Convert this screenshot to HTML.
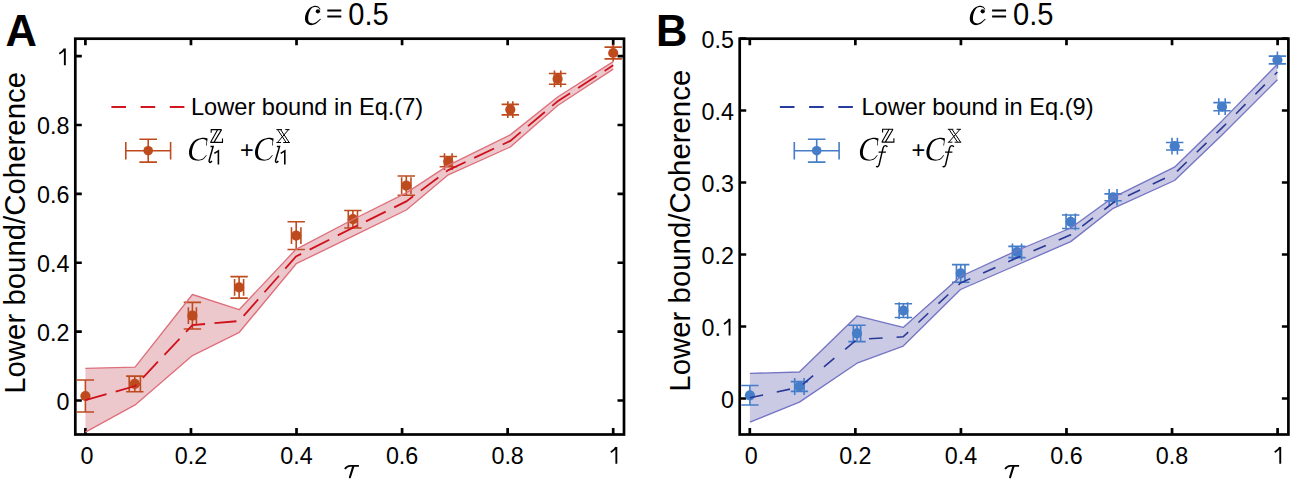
<!DOCTYPE html>
<html><head><meta charset="utf-8"><style>html,body{margin:0;padding:0;background:#fff;}svg{display:block;} .s{font-family:"Liberation Sans",sans-serif;} .r{font-family:"Liberation Serif",serif;}</style></head>
<body><svg width="1293" height="481" viewBox="0 0 1293 481">
<rect width="1293" height="481" fill="#fff"/>
<rect x="75.30" y="38.7" width="548.70" height="395.8" fill="none" stroke="#000" stroke-width="2.7"/>
<path d="M85.40 434.5v-6.5M85.40 38.7v6.5M190.96 434.5v-6.5M190.96 38.7v6.5M296.52 434.5v-6.5M296.52 38.7v6.5M402.08 434.5v-6.5M402.08 38.7v6.5M507.64 434.5v-6.5M507.64 38.7v6.5M613.20 434.5v-6.5M613.20 38.7v6.5M75.3 400.50h6.5M624 400.50h-6.5M75.3 331.62h6.5M624 331.62h-6.5M75.3 262.74h6.5M624 262.74h-6.5M75.3 193.86h6.5M624 193.86h-6.5M75.3 124.98h6.5M624 124.98h-6.5M75.3 56.10h6.5M624 56.10h-6.5" stroke="#000" stroke-width="2.7" fill="none"/>
<rect x="739.70" y="38.7" width="548.70" height="395.8" fill="none" stroke="#000" stroke-width="2.7"/>
<path d="M749.80 434.5v-6.5M749.80 38.7v6.5M855.36 434.5v-6.5M855.36 38.7v6.5M960.92 434.5v-6.5M960.92 38.7v6.5M1066.48 434.5v-6.5M1066.48 38.7v6.5M1172.04 434.5v-6.5M1172.04 38.7v6.5M1277.60 434.5v-6.5M1277.60 38.7v6.5M739.6999999999999 398.50h6.5M1288.4 398.50h-6.5M739.6999999999999 326.50h6.5M1288.4 326.50h-6.5M739.6999999999999 254.50h6.5M1288.4 254.50h-6.5M739.6999999999999 182.50h6.5M1288.4 182.50h-6.5M739.6999999999999 110.50h6.5M1288.4 110.50h-6.5M739.6999999999999 38.50h6.5M1288.4 38.50h-6.5" stroke="#000" stroke-width="2.7" fill="none"/>
<polygon points="85.4,368.3 135.1,367.1 192.4,294.5 239.1,309.7 296.0,249.3 352.9,219.5 406.3,192.9 448.3,165.4 510.3,134.9 557.7,97.0 613.2,61.6 613.2,69.1 557.7,105.5 510.3,147.0 448.3,174.8 406.3,210.0 352.9,236.2 296.2,263.7 239.3,332.3 192.4,355.6 135.1,404.9 85.4,432.2" fill="#B42337" fill-opacity="0.25" stroke="none"/>
<polygon points="749.9,373.4 799.4,372.0 857.0,315.9 903.2,327.4 960.5,276.5 1017.0,250.5 1070.7,228.0 1113.2,197.3 1174.5,167.2 1222.0,120.9 1277.4,64.2 1277.4,79.7 1222.0,134.9 1174.5,180.5 1113.2,208.3 1070.7,241.6 1017.0,265.0 960.5,289.5 903.2,346.1 857.0,363.2 799.4,402.1 749.9,422.1" fill="#3C3CA0" fill-opacity="0.27" stroke="none"/>
<path d="M85.40 380.00V412.00M76.70 380.00H94.10M76.70 412.00H94.10M85.40 396.00H85.40M85.40 387.60V404.40M85.40 387.60V404.40" stroke="#BE4B1E" stroke-width="1.6" fill="none"/>
<circle cx="85.40" cy="396.00" r="5.1" fill="#BE4B1E"/>
<path d="M134.80 376.10V391.70M126.10 376.10H143.50M126.10 391.70H143.50M129.20 383.90H140.40M129.20 375.50V392.30M140.40 375.50V392.30" stroke="#BE4B1E" stroke-width="1.6" fill="none"/>
<circle cx="134.80" cy="383.90" r="5.1" fill="#BE4B1E"/>
<path d="M192.40 302.40V329.00M183.70 302.40H201.10M183.70 329.00H201.10M188.40 315.70H196.40M188.40 307.30V324.10M196.40 307.30V324.10" stroke="#BE4B1E" stroke-width="1.6" fill="none"/>
<circle cx="192.40" cy="315.70" r="5.1" fill="#BE4B1E"/>
<path d="M239.10 276.65V298.15M230.40 276.65H247.80M230.40 298.15H247.80M234.60 287.40H243.60M234.60 279.00V295.80M243.60 279.00V295.80" stroke="#BE4B1E" stroke-width="1.6" fill="none"/>
<circle cx="239.10" cy="287.40" r="5.1" fill="#BE4B1E"/>
<path d="M296.20 221.75V249.45M287.50 221.75H304.90M287.50 249.45H304.90M291.50 235.60H300.90M291.50 227.20V244.00M300.90 227.20V244.00" stroke="#BE4B1E" stroke-width="1.6" fill="none"/>
<circle cx="296.20" cy="235.60" r="5.1" fill="#BE4B1E"/>
<path d="M352.90 210.45V227.95M344.20 210.45H361.60M344.20 227.95H361.60M348.30 219.20H357.50M348.30 210.80V227.60M357.50 210.80V227.60" stroke="#BE4B1E" stroke-width="1.6" fill="none"/>
<circle cx="352.90" cy="219.20" r="5.1" fill="#BE4B1E"/>
<path d="M406.30 176.00V195.20M397.60 176.00H415.00M397.60 195.20H415.00M401.65 185.60H410.95M401.65 177.20V194.00M410.95 177.20V194.00" stroke="#BE4B1E" stroke-width="1.6" fill="none"/>
<circle cx="406.30" cy="185.60" r="5.1" fill="#BE4B1E"/>
<path d="M448.30 156.50V166.70M439.60 156.50H457.00M439.60 166.70H457.00M444.50 161.60H452.10M444.50 153.20V170.00M452.10 153.20V170.00" stroke="#BE4B1E" stroke-width="1.6" fill="none"/>
<circle cx="448.30" cy="161.60" r="5.1" fill="#BE4B1E"/>
<path d="M510.30 104.35V114.85M501.60 104.35H519.00M501.60 114.85H519.00M507.80 109.60H512.80M507.80 101.20V118.00M512.80 101.20V118.00" stroke="#BE4B1E" stroke-width="1.6" fill="none"/>
<circle cx="510.30" cy="109.60" r="5.1" fill="#BE4B1E"/>
<path d="M557.60 73.50V84.30M548.90 73.50H566.30M548.90 84.30H566.30M554.45 78.90H560.75M554.45 70.50V87.30M560.75 70.50V87.30" stroke="#BE4B1E" stroke-width="1.6" fill="none"/>
<circle cx="557.60" cy="78.90" r="5.1" fill="#BE4B1E"/>
<path d="M613.20 47.10V58.90M604.50 47.10H621.90M604.50 58.90H621.90M613.20 53.00H613.20M613.20 44.60V61.40M613.20 44.60V61.40" stroke="#BE4B1E" stroke-width="1.6" fill="none"/>
<circle cx="613.20" cy="53.00" r="5.1" fill="#BE4B1E"/>
<path d="M749.90 385.55V405.05M741.20 385.55H758.60M741.20 405.05H758.60M749.90 395.30H749.90M749.90 386.90V403.70M749.90 386.90V403.70" stroke="#467DC8" stroke-width="1.6" fill="none"/>
<circle cx="749.90" cy="395.30" r="5.1" fill="#467DC8"/>
<path d="M799.40 381.60V391.40M790.70 381.60H808.10M790.70 391.40H808.10M794.70 386.50H804.10M794.70 378.10V394.90M804.10 378.10V394.90" stroke="#467DC8" stroke-width="1.6" fill="none"/>
<circle cx="799.40" cy="386.50" r="5.1" fill="#467DC8"/>
<path d="M857.00 325.20V341.60M848.30 325.20H865.70M848.30 341.60H865.70M853.35 333.40H860.65M853.35 325.00V341.80M860.65 325.00V341.80" stroke="#467DC8" stroke-width="1.6" fill="none"/>
<circle cx="857.00" cy="333.40" r="5.1" fill="#467DC8"/>
<path d="M903.40 303.70V317.50M894.70 303.70H912.10M894.70 317.50H912.10M899.20 310.60H907.60M899.20 302.20V319.00M907.60 302.20V319.00" stroke="#467DC8" stroke-width="1.6" fill="none"/>
<circle cx="903.40" cy="310.60" r="5.1" fill="#467DC8"/>
<path d="M960.70 264.60V282.20M952.00 264.60H969.40M952.00 282.20H969.40M956.45 273.40H964.95M956.45 265.00V281.80M964.95 265.00V281.80" stroke="#467DC8" stroke-width="1.6" fill="none"/>
<circle cx="960.70" cy="273.40" r="5.1" fill="#467DC8"/>
<path d="M1017.00 246.40V257.60M1008.30 246.40H1025.70M1008.30 257.60H1025.70M1012.45 252.00H1021.55M1012.45 243.60V260.40M1021.55 243.60V260.40" stroke="#467DC8" stroke-width="1.6" fill="none"/>
<circle cx="1017.00" cy="252.00" r="5.1" fill="#467DC8"/>
<path d="M1070.70 215.05V228.55M1062.00 215.05H1079.40M1062.00 228.55H1079.40M1066.05 221.80H1075.35M1066.05 213.40V230.20M1075.35 213.40V230.20" stroke="#467DC8" stroke-width="1.6" fill="none"/>
<circle cx="1070.70" cy="221.80" r="5.1" fill="#467DC8"/>
<path d="M1113.10 193.90V200.70M1104.40 193.90H1121.80M1104.40 200.70H1121.80M1109.20 197.30H1117.00M1109.20 188.90V205.70M1117.00 188.90V205.70" stroke="#467DC8" stroke-width="1.6" fill="none"/>
<circle cx="1113.10" cy="197.30" r="5.1" fill="#467DC8"/>
<path d="M1174.70 142.45V149.95M1166.00 142.45H1183.40M1166.00 149.95H1183.40M1172.00 146.20H1177.40M1172.00 137.80V154.60M1177.40 137.80V154.60" stroke="#467DC8" stroke-width="1.6" fill="none"/>
<circle cx="1174.70" cy="146.20" r="5.1" fill="#467DC8"/>
<path d="M1222.00 102.65V110.75M1213.30 102.65H1230.70M1213.30 110.75H1230.70M1218.80 106.70H1225.20M1218.80 98.30V115.10M1225.20 98.30V115.10" stroke="#467DC8" stroke-width="1.6" fill="none"/>
<circle cx="1222.00" cy="106.70" r="5.1" fill="#467DC8"/>
<path d="M1277.40 56.15V63.85M1268.70 56.15H1286.10M1268.70 63.85H1286.10M1277.40 60.00H1277.40M1277.40 51.60V68.40M1277.40 51.60V68.40" stroke="#467DC8" stroke-width="1.6" fill="none"/>
<circle cx="1277.40" cy="60.00" r="5.1" fill="#467DC8"/>
<polyline points="85.4,368.3 135.1,367.1 192.4,294.5 239.1,309.7 296.0,249.3 352.9,219.5 406.3,192.9 448.3,165.4 510.3,134.9 557.7,97.0 613.2,61.6" fill="none" stroke="#DE707C" stroke-width="1.35" stroke-linejoin="round"/>
<polyline points="85.4,432.2 135.1,404.9 192.4,355.6 239.3,332.3 296.2,263.7 352.9,236.2 406.3,210.0 448.3,174.8 510.3,147.0 557.7,105.5 613.2,69.1" fill="none" stroke="#DE707C" stroke-width="1.35" stroke-linejoin="round"/>
<polyline points="85.4,400.2 135.1,386.0 192.4,325.1 239.1,321.0 296.0,256.5 352.9,227.8 406.3,201.4 448.3,170.1 510.3,140.9 557.7,101.2 613.2,65.3" fill="none" stroke="#D0101A" stroke-width="1.8" stroke-dasharray="22 9.5"/>
<polyline points="749.9,373.4 799.4,372.0 857.0,315.9 903.2,327.4 960.5,276.5 1017.0,250.5 1070.7,228.0 1113.2,197.3 1174.5,167.2 1222.0,120.9 1277.4,64.2" fill="none" stroke="#7474C4" stroke-width="1.35" stroke-linejoin="round"/>
<polyline points="749.9,422.1 799.4,402.1 857.0,363.2 903.2,346.1 960.5,289.5 1017.0,265.0 1070.7,241.6 1113.2,208.3 1174.5,180.5 1222.0,134.9 1277.4,79.7" fill="none" stroke="#7474C4" stroke-width="1.35" stroke-linejoin="round"/>
<polyline points="749.9,397.8 799.4,387.1 857.0,339.5 903.2,336.8 960.5,283.0 1017.0,257.8 1070.7,234.8 1113.2,202.8 1174.5,173.8 1222.0,127.9 1277.4,72.0" fill="none" stroke="#283896" stroke-width="1.6" stroke-dasharray="13.5 14"/>
<text x="86.90" y="464.2" text-anchor="middle" class="s" font-size="23.3">0</text>
<text x="190.96" y="464.2" text-anchor="middle" class="s" font-size="23.3">0.2</text>
<text x="296.52" y="464.2" text-anchor="middle" class="s" font-size="23.3">0.4</text>
<text x="402.08" y="464.2" text-anchor="middle" class="s" font-size="23.3">0.6</text>
<text x="507.64" y="464.2" text-anchor="middle" class="s" font-size="23.3">0.8</text>
<path d="M616.35 446.90V463.70M610.80 452.20C613.20 450.80 615.20 449.20 616.20 447.20" stroke="#000" stroke-width="1.9" fill="none"/>
<text x="69.50" y="409.60" text-anchor="end" class="s" font-size="23.3">0</text>
<text x="69.50" y="340.72" text-anchor="end" class="s" font-size="23.3">0.2</text>
<text x="69.50" y="271.84" text-anchor="end" class="s" font-size="23.3">0.4</text>
<text x="69.50" y="202.96" text-anchor="end" class="s" font-size="23.3">0.6</text>
<text x="69.50" y="134.08" text-anchor="end" class="s" font-size="23.3">0.8</text>
<path d="M64.85 48.40V65.20M59.30 53.70C61.70 52.30 63.70 50.70 64.70 48.70" stroke="#000" stroke-width="1.9" fill="none"/>
<text x="751.30" y="464.2" text-anchor="middle" class="s" font-size="23.3">0</text>
<text x="855.36" y="464.2" text-anchor="middle" class="s" font-size="23.3">0.2</text>
<text x="960.92" y="464.2" text-anchor="middle" class="s" font-size="23.3">0.4</text>
<text x="1066.48" y="464.2" text-anchor="middle" class="s" font-size="23.3">0.6</text>
<text x="1172.04" y="464.2" text-anchor="middle" class="s" font-size="23.3">0.8</text>
<path d="M1280.25 446.90V463.70M1274.70 452.20C1277.10 450.80 1279.10 449.20 1280.10 447.20" stroke="#000" stroke-width="1.9" fill="none"/>
<text x="733.90" y="407.60" text-anchor="end" class="s" font-size="23.3">0</text>
<text x="701.60" y="335.60" class="s" font-size="23.3">0.</text>
<path d="M729.55 318.80V335.60M724.00 324.10C726.40 322.70 728.40 321.10 729.40 319.10" stroke="#000" stroke-width="1.9" fill="none"/>
<text x="733.90" y="263.60" text-anchor="end" class="s" font-size="23.3">0.2</text>
<text x="733.90" y="191.60" text-anchor="end" class="s" font-size="23.3">0.3</text>
<text x="733.90" y="119.60" text-anchor="end" class="s" font-size="23.3">0.4</text>
<text x="733.90" y="47.60" text-anchor="end" class="s" font-size="23.3">0.5</text>
<text x="5.6" y="46.1" class="s" font-weight="bold" font-size="43.5">A</text>
<text x="656" y="46.1" class="s" font-weight="bold" font-size="43.5">B</text>
<text transform="translate(24.6 232.9) rotate(-90)" text-anchor="middle" class="s" font-size="29.4">Lower bound/Coherence</text>
<text transform="translate(690.3 230.7) rotate(-90)" text-anchor="middle" class="s" font-size="29.4">Lower bound/Coherence</text>
<path d="M320.60 9.40C320.20 8.92 319.33 7.07 318.20 6.50C317.07 5.93 315.40 5.58 313.80 6.00C312.20 6.42 310.02 7.42 308.60 9.00C307.18 10.58 305.80 13.37 305.30 15.50C304.80 17.63 304.85 20.22 305.60 21.80C306.35 23.38 308.15 24.63 309.80 25.00C311.45 25.37 313.65 24.95 315.50 24.00C317.35 23.05 320.00 20.08 320.90 19.30L320.30 18.70C319.42 19.38 316.57 22.07 315.00 22.80C313.43 23.53 312.00 23.50 310.90 23.10C309.80 22.70 308.78 21.83 308.40 20.40C308.02 18.97 308.15 16.42 308.60 14.50C309.05 12.58 310.12 10.13 311.10 8.90C312.08 7.67 313.35 7.33 314.50 7.10C315.65 6.87 317.15 7.12 318.00 7.50C318.85 7.88 319.33 9.08 319.60 9.40Z" fill="#000"/><circle cx="317.9" cy="11.3" r="2.15" fill="#000"/><path d="M327.3 10.45H341.3M327.3 16.45H341.3" stroke="#000" stroke-width="2.1"/><text transform="translate(348.2 24.6) scale(0.97 1.07)" x="0" y="0" class="s" font-size="30">0.5</text>
<path d="M985.40 9.40C985.00 8.92 984.13 7.07 983.00 6.50C981.87 5.93 980.20 5.58 978.60 6.00C977.00 6.42 974.82 7.42 973.40 9.00C971.98 10.58 970.60 13.37 970.10 15.50C969.60 17.63 969.65 20.22 970.40 21.80C971.15 23.38 972.95 24.63 974.60 25.00C976.25 25.37 978.45 24.95 980.30 24.00C982.15 23.05 984.80 20.08 985.70 19.30L985.10 18.70C984.22 19.38 981.37 22.07 979.80 22.80C978.23 23.53 976.80 23.50 975.70 23.10C974.60 22.70 973.58 21.83 973.20 20.40C972.82 18.97 972.95 16.42 973.40 14.50C973.85 12.58 974.92 10.13 975.90 8.90C976.88 7.67 978.15 7.33 979.30 7.10C980.45 6.87 981.95 7.12 982.80 7.50C983.65 7.88 984.13 9.08 984.40 9.40Z" fill="#000"/><circle cx="982.6999999999999" cy="11.3" r="2.15" fill="#000"/><path d="M992.0999999999999 10.45H1006.0999999999999M992.0999999999999 16.45H1006.0999999999999" stroke="#000" stroke-width="2.1"/><text transform="translate(1013.0 24.6) scale(0.97 1.07)" x="0" y="0" class="s" font-size="30">0.5</text>
<path d="M344.9 469.0C346.3 466.9 347.6 465.9 350 465.9H358.9" stroke="#000" stroke-width="1.8" fill="none"/><path d="M353.3 466.4L349.9 477.3" stroke="#000" stroke-width="2.1" fill="none" stroke-linecap="round"/>
<path d="M1005.1 469.0C1006.5 466.9 1007.8000000000001 465.9 1010.2 465.9H1019.1" stroke="#000" stroke-width="1.8" fill="none"/><path d="M1013.5 466.4L1010.1 477.3" stroke="#000" stroke-width="2.1" fill="none" stroke-linecap="round"/>
<path d="M111.4 107H184.8" stroke="#D0161E" stroke-width="1.9" stroke-dasharray="14.6 14.6"/>
<text x="191" y="115.3" class="s" font-size="23.6">Lower bound in Eq.(7)</text>
<path d="M125.79999999999998 150.7H170.6M125.79999999999998 141.89999999999998v17.6M170.6 141.89999999999998v17.6M148.2 139.29999999999998V162.1M139.39999999999998 139.29999999999998h17.6M139.39999999999998 162.1h17.6" stroke="#BE4B1E" stroke-width="1.6" fill="none"/>
<circle cx="148.2" cy="150.7" r="4.8" fill="#BE4B1E"/>
<path d="M207.60 138.40C206.53 138.33 203.52 137.52 201.20 138.00C198.88 138.48 195.68 139.37 193.70 141.30C191.72 143.23 189.88 146.92 189.30 149.60C188.72 152.28 189.02 155.57 190.20 157.40C191.38 159.23 194.27 160.23 196.40 160.60C198.53 160.97 201.27 160.48 203.00 159.60C204.73 158.72 206.17 156.02 206.80 155.30L206.20 155.00C205.58 155.62 204.00 157.95 202.50 158.70C201.00 159.45 198.82 159.87 197.20 159.50C195.58 159.13 193.63 158.10 192.80 156.50C191.97 154.90 191.77 152.27 192.20 149.90C192.63 147.53 193.90 144.08 195.40 142.30C196.90 140.52 199.40 139.50 201.20 139.20C203.00 138.90 205.40 139.48 206.20 140.50C207.00 141.52 205.92 144.50 206.00 145.30C206.08 146.10 206.58 145.30 206.70 145.30Z" fill="#000"/>
<path d="M273.60 138.40C272.53 138.33 269.52 137.52 267.20 138.00C264.88 138.48 261.68 139.37 259.70 141.30C257.72 143.23 255.88 146.92 255.30 149.60C254.72 152.28 255.02 155.57 256.20 157.40C257.38 159.23 260.27 160.23 262.40 160.60C264.53 160.97 267.27 160.48 269.00 159.60C270.73 158.72 272.17 156.02 272.80 155.30L272.20 155.00C271.58 155.62 270.00 157.95 268.50 158.70C267.00 159.45 264.82 159.87 263.20 159.50C261.58 159.13 259.63 158.10 258.80 156.50C257.97 154.90 257.77 152.27 258.20 149.90C258.63 147.53 259.90 144.08 261.40 142.30C262.90 140.52 265.40 139.50 267.20 139.20C269.00 138.90 271.40 139.48 272.20 140.50C273.00 141.52 271.92 144.50 272.00 145.30C272.08 146.10 272.58 145.30 272.70 145.30Z" fill="#000"/>
<text x="240" y="157.6" class="s" font-size="23.5">+</text>
<path d="M210.50 146.60H213.10L209.20 160.20C208.70 162.30 210.10 163.40 211.90 161.00" stroke="#000" stroke-width="1.5" fill="none"/>
<path d="M214.3 153.4L218.4 150.9V164.5" stroke="#000" stroke-width="1.6" fill="none"/>
<path d="M276.90 146.60H279.50L275.60 160.20C275.10 162.30 276.50 163.40 278.30 161.00" stroke="#000" stroke-width="1.5" fill="none"/>
<path d="M280.70000000000005 153.4L284.8 150.9V164.5" stroke="#000" stroke-width="1.6" fill="none"/>
<path d="M211.20 132.80V129.60H221.70M217.70 129.60L210.50 142.40M221.60 129.60L213.90 142.40M210.30 142.40H222.50V138.60" stroke="#000" stroke-width="1.1" fill="none"/>
<path d="M276.4 129.6H282.0M285.2 129.6H289.5M277.59999999999997 129.6L286.2 142.5M280.59999999999997 129.6L289.2 142.5M288.59999999999997 129.6L277.4 142.5M276.4 142.5H281.0M283.2 142.5H289.8" stroke="#000" stroke-width="1.0" fill="none"/>
<path d="M779.9 107H853.3" stroke="#283CA0" stroke-width="1.9" stroke-dasharray="14.6 14.6"/>
<text x="861.4" y="115.3" class="s" font-size="23.6">Lower bound in Eq.(9)</text>
<path d="M794.3000000000001 150.7H839.1M794.3000000000001 141.89999999999998v17.6M839.1 141.89999999999998v17.6M816.7 139.29999999999998V162.1M807.9000000000001 139.29999999999998h17.6M807.9000000000001 162.1h17.6" stroke="#467DC8" stroke-width="1.6" fill="none"/>
<circle cx="816.7" cy="150.7" r="4.8" fill="#467DC8"/>
<path d="M878.50 138.40C877.43 138.33 874.42 137.52 872.10 138.00C869.78 138.48 866.58 139.37 864.60 141.30C862.62 143.23 860.78 146.92 860.20 149.60C859.62 152.28 859.92 155.57 861.10 157.40C862.28 159.23 865.17 160.23 867.30 160.60C869.43 160.97 872.17 160.48 873.90 159.60C875.63 158.72 877.07 156.02 877.70 155.30L877.10 155.00C876.48 155.62 874.90 157.95 873.40 158.70C871.90 159.45 869.72 159.87 868.10 159.50C866.48 159.13 864.53 158.10 863.70 156.50C862.87 154.90 862.67 152.27 863.10 149.90C863.53 147.53 864.80 144.08 866.30 142.30C867.80 140.52 870.30 139.50 872.10 139.20C873.90 138.90 876.30 139.48 877.10 140.50C877.90 141.52 876.82 144.50 876.90 145.30C876.98 146.10 877.48 145.30 877.60 145.30Z" fill="#000"/>
<path d="M945.00 138.40C943.93 138.33 940.92 137.52 938.60 138.00C936.28 138.48 933.08 139.37 931.10 141.30C929.12 143.23 927.28 146.92 926.70 149.60C926.12 152.28 926.42 155.57 927.60 157.40C928.78 159.23 931.67 160.23 933.80 160.60C935.93 160.97 938.67 160.48 940.40 159.60C942.13 158.72 943.57 156.02 944.20 155.30L943.60 155.00C942.98 155.62 941.40 157.95 939.90 158.70C938.40 159.45 936.22 159.87 934.60 159.50C932.98 159.13 931.03 158.10 930.20 156.50C929.37 154.90 929.17 152.27 929.60 149.90C930.03 147.53 931.30 144.08 932.80 142.30C934.30 140.52 936.80 139.50 938.60 139.20C940.40 138.90 942.80 139.48 943.60 140.50C944.40 141.52 943.32 144.50 943.40 145.30C943.48 146.10 943.98 145.30 944.10 145.30Z" fill="#000"/>
<text x="911.4" y="157.6" class="s" font-size="23.5">+</text>
<path d="M887.20 147.00C886.80 145.30 884.00 144.70 883.10 147.90L879.20 164.30C878.60 167.00 877.00 167.30 876.20 166.10M878.60 152.10H885.90" stroke="#000" stroke-width="1.45" fill="none"/>
<path d="M953.70 147.00C953.30 145.30 950.50 144.70 949.60 147.90L945.70 164.30C945.10 167.00 943.50 167.30 942.70 166.10M945.10 152.10H952.40" stroke="#000" stroke-width="1.45" fill="none"/>
<path d="M882.60 132.50V129.30H893.10M889.10 129.30L881.90 142.10M893.00 129.30L885.30 142.10M881.70 142.10H893.90V138.30" stroke="#000" stroke-width="1.1" fill="none"/>
<path d="M947.8000000000001 129.3H953.4M956.6 129.3H960.9M949.0 129.3L957.6 142.20000000000002M952.0 129.3L960.6 142.20000000000002M960.0 129.3L948.8000000000001 142.20000000000002M947.8000000000001 142.20000000000002H952.4M954.6 142.20000000000002H961.2" stroke="#000" stroke-width="1.0" fill="none"/>
</svg></body></html>
